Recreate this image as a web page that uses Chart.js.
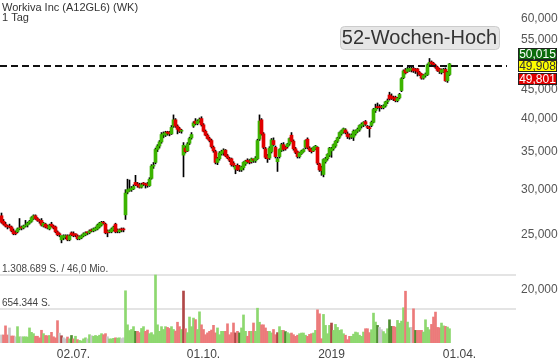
<!DOCTYPE html>
<html>
<head>
<meta charset="utf-8">
<script src="https://cdn.jsdelivr.net/npm/chart.js@4/dist/chart.umd.min.js"></script>
<style>
  html, body { margin: 0; padding: 0; background: #fff; }
  #wrap { width: 560px; height: 363px; position: relative; }
</style>
</head>
<body>
<div id="wrap"><canvas id="wkChart"></canvas></div>
<script>
// daily candles [open, high, low, close] in EUR
const ohlc = [
  [27.0,27.3,26.2,26.3],[26.4,26.6,26.0,26.1],[26.1,26.3,25.8,25.9],[25.9,26.0,25.6,25.8],[25.9,26.1,25.7,25.8],
  [25.8,25.9,25.3,25.4],[25.4,25.6,25.0,25.1],[25.2,25.4,25.0,25.1],[25.3,25.7,25.2,25.6],[25.6,26.7,25.5,25.7],
  [25.8,25.9,25.5,25.7],[25.7,26.0,25.6,25.9],[25.9,26.5,25.8,26.0],[26.0,26.3,25.8,26.2],[26.2,26.5,26.1,26.4],
  [26.4,26.9,26.3,26.8],[26.7,27.1,26.6,27.0],[27.0,27.1,26.6,26.7],[26.7,26.8,26.4,26.5],[26.4,26.6,26.2,26.4],
  [26.5,26.7,25.9,26.0],[25.9,26.3,25.8,26.2],[26.1,26.2,25.7,25.8],[25.9,26.0,25.6,25.7],[25.6,26.1,25.5,26.0],
  [26.1,26.3,25.8,25.9],[25.9,26.0,25.6,25.7],[25.8,25.9,25.2,25.3],[25.3,25.4,24.9,25.0],[25.0,25.2,24.8,25.0],
  [24.5,24.9,24.2,24.9],[24.7,25.0,24.5,24.9],[24.8,25.0,24.6,24.9],[24.9,25.0,24.4,24.5],[24.5,25.0,24.4,24.9],
  [25.2,25.3,24.9,25.0],[25.1,25.3,24.8,24.9],[25.0,25.1,24.8,25.0],[24.9,25.0,24.5,24.6],[24.6,24.9,24.5,24.8],
  [24.7,25.0,24.6,24.9],[24.9,25.2,24.8,25.1],[25.0,25.3,24.9,25.2],[25.2,25.3,25.0,25.2],[25.2,25.5,25.1,25.4],
  [25.5,25.6,25.3,25.4],[25.4,25.7,25.3,25.6],[25.5,25.8,25.4,25.7],[25.6,26.1,25.5,26.0],[25.8,26.3,25.7,26.2],
  [26.0,26.4,25.9,26.3],[26.3,26.4,26.1,26.2],[26.1,26.2,25.1,25.2],[25.4,25.5,24.8,25.2],[25.3,25.5,25.2,25.4],
  [25.3,25.7,25.2,25.6],[25.5,25.9,25.4,25.8],[26.1,26.2,25.2,25.3],[25.4,25.6,25.2,25.4],[25.3,25.6,25.2,25.5],
  [25.5,25.7,25.3,25.5],[25.6,25.7,25.3,25.5],[27.1,30.0,26.6,29.6],[29.7,31.3,29.5,30.0],[29.9,31.2,29.8,30.1],
  [30.0,30.4,29.8,30.2],[30.1,30.6,30.0,30.4],[30.9,31.8,30.5,30.6],[30.7,30.9,30.3,30.5],[30.6,30.8,30.2,30.3],
  [30.3,30.8,30.2,30.6],[30.7,30.9,30.5,30.7],[30.6,30.8,30.2,30.6],[30.7,30.9,30.3,30.5],[30.5,31.5,30.4,31.3],
  [31.4,33.2,31.3,33.0],[33.0,33.5,32.7,33.1],[33.5,35.5,33.3,35.3],[35.3,36.0,35.0,35.8],[35.8,36.6,35.5,36.4],
  [36.4,37.8,36.2,37.5],[37.5,37.9,37.0,37.6],[37.4,38.0,37.2,37.8],[37.9,38.0,37.4,37.7],[37.8,38.0,37.3,37.6],
  [37.6,38.9,37.5,38.6],[38.8,40.6,38.6,39.8],[39.8,40.0,38.6,38.8],[38.8,39.0,37.6,38.3],[38.4,38.6,37.8,38.0],
  [38.0,38.3,37.7,38.1],[34.5,36.3,31.6,35.9],[35.5,35.8,34.8,35.0],[35.1,36.3,35.0,36.1],[36.2,37.1,36.0,36.9],
  [37.0,37.8,36.8,37.5],[38.8,39.5,38.6,39.3],[39.6,40.0,39.0,39.2],[39.2,39.8,39.0,39.6],[39.6,40.1,39.4,39.9],
  [40.0,40.3,38.8,39.0],[39.0,39.2,37.9,38.0],[38.0,38.2,37.3,37.4],[37.4,37.6,36.8,36.9],[36.9,37.1,36.4,36.6],
  [36.6,36.8,35.5,35.7],[35.6,35.8,34.9,35.1],[35.0,35.2,33.3,33.5],[33.5,34.2,33.2,34.0],[34.0,35.0,33.8,34.8],
  [34.7,35.2,34.5,35.0],[34.9,35.4,34.5,35.2],[35.2,35.3,34.3,34.4],[34.4,34.6,34.0,34.1],[34.0,34.2,33.6,33.8],
  [34.0,34.1,33.0,33.2],[33.4,33.6,32.9,33.1],[32.6,33.1,32.0,33.0],[33.1,33.3,32.4,32.5],[32.9,33.1,32.3,32.6],
  [32.5,33.0,32.3,32.9],[32.8,33.6,32.5,33.5],[33.3,33.8,33.1,33.7],[33.8,34.0,33.4,33.6],[33.7,33.9,33.3,33.5],
  [33.6,34.1,33.4,34.0],[33.8,34.0,33.5,33.8],[33.7,34.3,33.5,34.1],[34.0,36.8,33.9,36.6],[36.8,40.6,36.6,39.6],
  [39.8,40.0,37.4,37.6],[37.6,37.8,35.4,35.6],[35.4,35.6,34.0,34.2],[34.4,34.6,33.5,34.0],[34.1,35.7,33.9,35.5],
  [35.0,36.9,34.8,36.7],[36.6,37.0,35.8,36.0],[35.6,35.8,34.1,34.3],[33.6,34.2,32.3,34.0],[34.3,35.4,34.1,35.3],
  [35.2,36.2,35.0,36.0],[36.0,36.3,35.1,35.3],[35.6,35.8,35.2,35.4],[35.7,36.2,35.5,36.1],[36.1,37.0,35.9,36.9],
  [37.4,37.8,36.4,36.5],[36.5,36.7,35.2,35.4],[35.4,35.6,34.7,34.9],[35.0,35.1,34.1,34.3],[34.3,34.9,34.1,34.8],
  [34.7,35.2,34.6,35.1],[35.0,35.4,34.9,35.3],[35.6,36.7,35.4,36.6],[36.8,37.0,35.4,35.6],[35.5,35.7,35.0,35.2],
  [35.3,35.5,34.8,35.0],[35.1,35.7,35.0,35.6],[35.4,35.9,35.3,35.8],[35.6,35.7,33.2,33.4],[33.3,33.4,32.3,32.5],
  [32.8,33.0,31.8,32.4],[31.9,34.0,31.6,33.9],[33.6,34.2,33.4,34.0],[34.0,34.7,33.8,34.6],[34.5,35.6,34.3,35.5],
  [35.1,35.6,34.2,35.4],[35.4,36.1,35.2,36.0],[35.8,36.6,35.6,36.5],[36.5,37.1,36.3,37.0],[37.1,37.9,36.9,37.8],
  [37.6,38.2,37.4,38.1],[37.9,38.5,37.7,38.4],[38.2,38.4,37.6,37.8],[37.6,37.9,36.9,37.2],[37.4,37.6,36.8,37.1],
  [37.1,37.6,36.9,37.4],[37.1,38.2,36.6,38.0],[37.6,38.2,37.4,38.1],[38.0,38.5,37.8,38.3],[38.2,39.0,38.0,38.9],
  [38.8,39.3,38.5,39.1],[39.0,39.5,38.7,39.4],[39.5,39.7,38.9,39.1],[38.7,38.9,38.4,38.6],[38.5,38.8,37.1,38.4],
  [38.9,39.6,38.7,39.4],[39.4,41.7,39.3,41.5],[41.3,42.4,41.0,41.7],[42.0,42.6,41.6,41.8],[41.9,42.3,41.2,41.8],
  [42.0,42.2,41.6,41.8],[41.8,42.3,41.6,42.1],[42.1,42.9,41.9,42.8],[42.8,43.3,42.5,43.0],[44.0,44.5,43.1,43.3],
  [43.8,44.2,43.2,43.4],[43.5,43.8,43.0,43.3],[43.6,43.8,42.8,43.0],[43.0,43.6,42.8,43.4],[43.5,44.3,43.3,44.1],
  [44.8,47.2,44.6,47.0],[47.2,48.7,47.0,48.5],[48.7,49.0,47.9,48.1],[48.4,49.2,48.2,48.9],[48.6,49.3,48.4,49.0],
  [48.7,49.2,48.3,49.0],[49.0,49.2,48.2,48.5],[48.8,49.0,48.0,48.6],[48.9,49.0,47.5,48.3],[48.2,48.4,47.6,47.8],
  [47.9,48.0,46.9,47.1],[47.1,47.8,46.9,47.6],[47.6,48.1,47.3,47.9],[47.8,49.9,47.6,49.7],[49.8,51.0,49.6,50.2],
  [50.3,50.5,49.7,49.9],[50.0,50.2,49.4,49.6],[49.6,49.8,49.0,49.2],[49.2,49.4,48.4,48.6],[48.9,49.0,48.0,48.4],
  [48.2,48.9,47.9,48.7],[48.3,49.0,48.2,48.8],[48.8,49.1,46.5,46.6],[46.6,48.4,46.3,48.2],[47.8,50.0,47.6,49.9]
];

// daily volume, thousand shares
const volumeK = [
  155,155,330,155,290,135,135,120,315,120,
  120,120,120,115,290,205,180,130,130,100,
  245,180,145,140,145,205,120,100,430,190,
  140,100,80,115,80,145,80,130,65,50,
  40,80,100,80,160,140,130,145,130,150,
  180,160,180,120,80,80,90,100,95,100,
  85,100,1005,350,240,260,315,225,225,200,
  280,315,225,250,180,200,160,1308.689,350,225,
  315,260,315,300,280,315,260,230,400,315,
  260,1000,275,200,500,315,480,450,260,600,
  350,260,160,195,225,250,340,195,290,160,
  225,225,225,370,160,200,385,195,225,195,
  290,540,225,130,225,225,385,225,670,400,
  350,350,290,225,225,195,260,160,200,315,
  243,243,220,200,179,192,160,128,150,179,
  192,192,150,128,166,180,192,243,639,562,
  83,550,339,179,339,384,243,358,300,243,
  256,179,150,64,128,128,170,211,200,150,
  128,211,275,275,200,256,575,403,339,300,
  256,220,179,275,447,320,320,307,435,380,
  422,678,997,403,294,300,658,243,243,243,
  243,211,447,300,256,358,500,595,300,294,
  384,330,320,307,275
];

const xTickIdx = [36, 101, 165, 229];
const xTickLabels = ['02.07.', '01.10.', '2019', '01.04.'];
const priceTicks = [20, 25, 30, 35, 40, 45, 50, 55, 60];

const quoteHigh = 50.015;
const quoteLast = 49.908;
const quoteLow = 49.801;
const hochLevel = 49.5;

const volMaxText = '1.308.689 S. / 46,0 Mio.';
const volHalfText = '654.344 S.';

const FONT = "'Liberation Sans', Arial, sans-serif";
const UP = '#3cb400', DOWN = '#e00000';

const fmt = v => v.toFixed(3).replace('.', ',');

const wicks = ohlc.map((c, i) => ({ x: i, y: [c[2], c[1]] }));
const bodies = ohlc.map((c, i) => ({ x: i, y: [Math.min(c[0], c[3]), Math.max(c[0], c[3])] }));
const vols = volumeK.map((v, i) => ({ x: i, y: v }));

const bodyColors = ohlc.map(c => c[3] > c[0] ? UP : DOWN);
const volColors = ohlc.map((c, i) => {
    const prev = i > 0 ? ohlc[i - 1][3] : c[3];
    if (c[3] > prev) return c[3] >= c[0] ? '#8dd86f' : '#4e8d31';
    if (c[3] < prev) return c[3] <= c[0] ? '#ec7a7a' : '#b04747';
    return '#c9c9c9';
});

const overlay = {
    id: 'overlay',
    beforeDatasetsDraw(chart) {
        const { ctx, chartArea, scales } = chart;
        const vmax = Math.max(...volumeK);
        ctx.save();
        ctx.fillStyle = '#e4e4e4';
        [vmax, vmax / 2].forEach(v => {
            const y = Math.round(scales.yv.getPixelForValue(v));
            ctx.fillRect(chartArea.left, y - 1, chartArea.right - chartArea.left, 2);
        });
        ctx.fillStyle = '#444';
        ctx.font = '10px ' + FONT;
        ctx.textBaseline = 'alphabetic';
        ctx.fillText(volMaxText, 2, Math.round(scales.yv.getPixelForValue(vmax)) - 3);
        ctx.fillText(volHalfText, 2, Math.round(scales.yv.getPixelForValue(vmax / 2)) - 3);
        ctx.restore();
    },
    afterDatasetsDraw(chart) {
        const { ctx, chartArea, scales } = chart;
        ctx.save();

        // 52 week high line
        const ly = Math.round(scales.y.getPixelForValue(hochLevel));
        ctx.strokeStyle = '#111';
        ctx.lineWidth = 2;
        ctx.setLineDash([7, 4]);
        ctx.beginPath();
        ctx.moveTo(chartArea.left, ly);
        ctx.lineTo(chartArea.right - 9, ly);
        ctx.stroke();
        ctx.setLineDash([]);

        // label box
        const bx = 340, by = 26, bw = 159, bh = 23;
        ctx.fillStyle = '#e6e6e6';
        ctx.strokeStyle = '#cccccc';
        ctx.lineWidth = 1;
        ctx.beginPath();
        ctx.roundRect(bx + 0.5, by + 0.5, bw, bh, 4);
        ctx.fill();
        ctx.stroke();
        ctx.fillStyle = '#333';
        ctx.font = '20px ' + FONT;
        ctx.textAlign = 'center';
        ctx.textBaseline = 'middle';
        ctx.fillText('52-Wochen-Hoch', bx + bw / 2, by + bh / 2 + 1);

        // quote boxes on the right
        const qx = chartArea.right + 2, qw = 39;
        const boxes = [
            [quoteHigh, ly - 18, '#0b6b0b', '#fff'],
            [quoteLast, ly - 6, '#ffff00', '#333'],
            [quoteLow, ly + 7, '#e00000', '#fff']
        ];
        ctx.font = '12px ' + FONT;
        boxes.forEach(([v, top, bg, fg]) => {
            ctx.fillStyle = bg;
            ctx.fillRect(qx, top, qw, 11);
            ctx.strokeStyle = '#222';
            ctx.strokeRect(qx + 0.5, top + 0.5, qw - 1, 11);
            ctx.fillStyle = fg;
            ctx.fillText(fmt(v), qx + qw / 2, top + 6.5);
        });

        // header
        ctx.textAlign = 'left';
        ctx.textBaseline = 'alphabetic';
        ctx.fillStyle = '#333';
        ctx.font = '11px ' + FONT;
        ctx.fillText('Workiva Inc (A12GL6) (WK)', 2, 11);
        ctx.fillText('1 Tag', 2, 21);
        ctx.restore();
    }
};

const ctx = document.getElementById('wkChart').getContext('2d');

new Chart(ctx, {
    type: 'bar',
    data: {
        datasets: [
            {
                data: bodies,
                backgroundColor: bodyColors,
                barThickness: 3,
                minBarLength: 1,
                grouped: false,
                order: 0
            },
            {
                data: wicks,
                backgroundColor: '#000',
                barThickness: 1,
                grouped: false,
                order: 1
            },
            {
                data: vols,
                yAxisID: 'yv',
                backgroundColor: volColors,
                barThickness: 2,
                grouped: false,
                order: 2
            }
        ]
    },
    options: {
        responsive: true,
        maintainAspectRatio: false,
        animation: false,
        layout: { padding: 0 },
        plugins: {
            legend: { display: false },
            tooltip: { enabled: false }
        },
        scales: {
            x: {
                type: 'linear',
                min: -0.75,
                max: 257.25,
                offset: false,
                grid: { display: false, drawTicks: false },
                border: { display: false },
                afterBuildTicks: s => { s.ticks = xTickIdx.map(v => ({ value: v })); },
                afterFit: s => { s.height = 20; s.paddingLeft = 0; s.paddingRight = 0; },
                ticks: {
                    autoSkip: false,
                    maxRotation: 0,
                    padding: 4,
                    color: '#444',
                    font: { family: FONT, size: 12 },
                    callback: v => xTickLabels[xTickIdx.indexOf(v)]
                }
            },
            y: {
                type: 'logarithmic',
                position: 'right',
                min: 16.14,
                max: 64.61,
                grid: { display: false, drawTicks: false },
                border: { display: false },
                afterBuildTicks: s => { s.ticks = priceTicks.map(v => ({ value: v })); },
                afterFit: s => { s.width = 44; s.paddingTop = 0; s.paddingBottom = 0; },
                ticks: {
                    padding: 5,
                    color: '#555',
                    font: { family: FONT, size: 12 },
                    callback: v => fmt(v)
                }
            },
            yv: {
                type: 'linear',
                display: false,
                min: 0,
                max: 6601
            }
        }
    },
    plugins: [overlay]
});
</script>
</body>
</html>
